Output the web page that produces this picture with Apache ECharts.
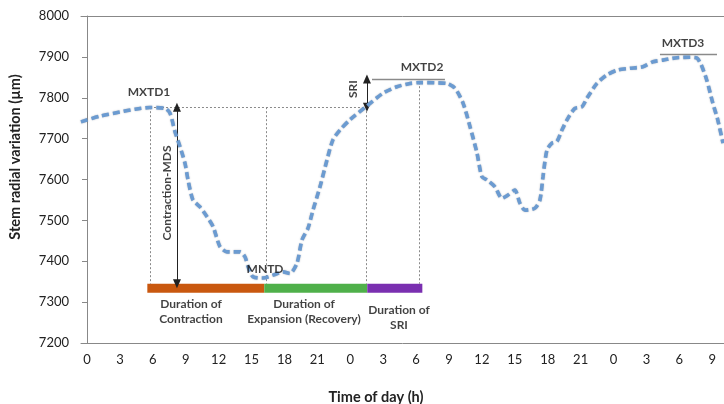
<!DOCTYPE html>
<html><head><meta charset="utf-8">
<script src="https://cdn.jsdelivr.net/npm/echarts@6/dist/echarts.min.js"></script>
<style>html,body{margin:0;padding:0;background:#fff}#c{width:724px;height:404px}</style>
</head><body><div id="c"></div>
<script>
// ---- data ----
const hours = [-0.55,1.19,3.0,4.38,5.74,7.11,7.57,8.02,8.48,8.93,9.21,9.66,10.3,10.94,11.49,12.12,12.76,13.95,14.4,14.68,15.13,16.04,16.96,17.87,18.5,19.14,19.6,20.15,20.6,21.24,21.88,22.42,23.06,23.97,25.52,26.98,28.26,29.44,30.36,32.82,33.55,34.28,34.91,35.55,36.0,36.46,37.19,37.83,38.38,39.0,39.47,39.93,40.84,41.29,41.57,41.93,42.39,42.84,43.3,43.76,44.48,45.12,45.58,46.49,47.4,48.4,49.5,50.68,51.6,52.5,53.78,54.97,55.6,56.0,56.5,57.06,57.5,57.98];
const radius = [7741,7755,7765,7772,7776,7774,7762,7717,7680,7640,7599,7550,7533,7509,7485,7436,7423,7423,7411,7387,7362,7359,7366,7374,7370,7395,7452,7481,7525,7582,7648,7697,7721,7746,7780,7811,7827,7835,7837,7835,7823,7787,7730,7665,7607,7599,7582,7554,7562,7574,7542,7525,7530,7550,7607,7672,7689,7693,7721,7746,7774,7778,7799,7835,7856,7868,7872,7876,7888,7892,7898,7899,7897,7880,7843,7786,7746,7689];
const tickHours = [0,3,6,9,12,15,18,21,24,27,30,33,36,39,42,45,48,51,54,57];
const tickLabels = ['0','3','6','9','12','15','18','21','0','3','6','9','12','15','18','21','0','3','6','9'];

// annotation geometry (data coordinates)
const dottedLines = [
  [[5.74,7777],[25.5,7777]],
  [[5.74,7777],[5.74,7345]],
  [[16.3,7777],[16.3,7345]],
  [[25.5,7777],[25.5,7345]],
  [[30.31,7838],[30.31,7345]]
];
const solidLines = [
  [[25.98,7846],[32.63,7846]],
  [[52.23,7907],[57.43,7907]]
];
const arrows = [
  [[8.2,7777],[8.2,7345]],
  [[25.52,7846],[25.52,7777]]
];
const phaseNames = ['Contraction','Expansion','SRI'];
const phaseStart = [5.5,16.16,25.55];
const phaseEnd = [16.16,25.55,30.57];
const phaseBand = [7323,7345];
const phaseColors = ['#c9580f','#4fb04a','#7a2fb0'];
const textItems = [
  {t:'MXTD1', at:[5.65,7814], rot:0},
  {t:'MXTD2', at:[30.54,7875], rot:0},
  {t:'MXTD3', at:[54.33,7934], rot:0},
  {t:'MNTD', at:[16.23,7380], rot:0},
  {t:'SRI', at:[24.25,7821], rot:90},
  {t:'Contraction-MDS', at:[7.29,7567], rot:90},
  {t:'Duration of\nContraction', at:[9.48,7276], rot:0},
  {t:'Duration of\nExpansion (Recovery)', at:[19.78,7276], rot:0},
  {t:'Duration of\nSRI', at:[28.44,7262], rot:0}
];
const xTitle = 'Time of day (h)';
const yTitle = 'Stem radial variation (µm)';

const FONT = 'Lato';
const chart = echarts.init(document.getElementById('c'));
const mlData = [];
dottedLines.forEach(l => mlData.push([{coord:l[0], symbol:'none', lineStyle:{type:[2,2], color:'#8a8a8a', width:1}}, {coord:l[1], symbol:'none'}]));
solidLines.forEach(l => mlData.push([{coord:l[0], symbol:'none', lineStyle:{type:'solid', color:'#8a8a8a', width:1.3}}, {coord:l[1], symbol:'none'}]));
arrows.forEach(l => mlData.push([{coord:l[0], symbol:'triangle', symbolSize:[8,9], lineStyle:{type:'solid', color:'#222', width:1}}, {coord:l[1], symbol:'triangle', symbolSize:[8,9]}]));

const maData = phaseNames.map((n,i) => [{name:n, coord:[phaseStart[i], phaseBand[1]], itemStyle:{color:phaseColors[i]}}, {coord:[phaseEnd[i], phaseBand[0]]}]);

const option = {
  animation:false,
  title:{text:xTitle, left:371, top:385, textAlign:'center', textStyle:{fontFamily:FONT, fontWeight:'bold', fontSize:14.5, color:'#222'}},
  graphic:[{type:'text', x:15, y:157, rotation:Math.PI/2, silent:true,
    style:{text:yTitle, align:'center', verticalAlign:'middle', fontFamily:FONT, fontWeight:'bold', fontSize:14.5, fill:'#222'}}],
  grid:{left:81, top:16, right:0, bottom:61},
  xAxis:[{
    type:'value', min:-0.547, max:58.07,
    axisLine:{show:true, lineStyle:{color:'#888', width:1}},
    axisTick:{show:false},
    splitLine:{show:false},
    axisLabel:{customValues:tickHours, formatter:v => tickLabels[tickHours.indexOf(Math.round(v))] ?? '', color:'#222', fontSize:13, fontFamily:FONT, margin:10}
  },{
    type:'value', position:'top', min:-0.547, max:58.07,
    axisLine:{show:true, lineStyle:{color:'#888', width:1}},
    axisTick:{show:false}, axisLabel:{show:false}, splitLine:{show:false}
  }],
  yAxis:{
    type:'value', min:7200, max:8000, interval:100,
    axisLine:{show:true, lineStyle:{color:'#888', width:1}},
    axisTick:{show:true, length:5, lineStyle:{color:'#888'}},
    splitLine:{show:false},
    axisLabel:{color:'#222', fontSize:13, fontFamily:FONT, margin:12, formatter:v => String(v)}
  },
  series:[
    {
      type:'line', name:'annotations', data:[], silent:true,
      markLine:{silent:true, label:{show:false}, data:mlData, animation:false},
      markArea:{silent:true, label:{show:false}, data:maData}
    },
    {
      type:'line', name:'SRV', data:hours.map((h,i)=>[h, radius[i]]),
      showSymbol:false, smooth:0.25, z:5,
      lineStyle:{color:'#6b9bd1', width:3.6, type:[7,4], cap:'butt', shadowColor:'rgba(60,70,90,0.45)', shadowBlur:1.5}
    },
    {
      type:'scatter', name:'labels', symbolSize:0, silent:true, z:6,
      data:textItems.map(d => ({value:d.at, label:{show:true, position:'inside', formatter:d.t, rotate:d.rot}})),
      label:{color:'#111', fontFamily:FONT, fontWeight:'bold', fontSize:12, lineHeight:15, align:'center', verticalAlign:'middle'}
    }
  ]
};
chart.setOption(option);
</script></body></html>
